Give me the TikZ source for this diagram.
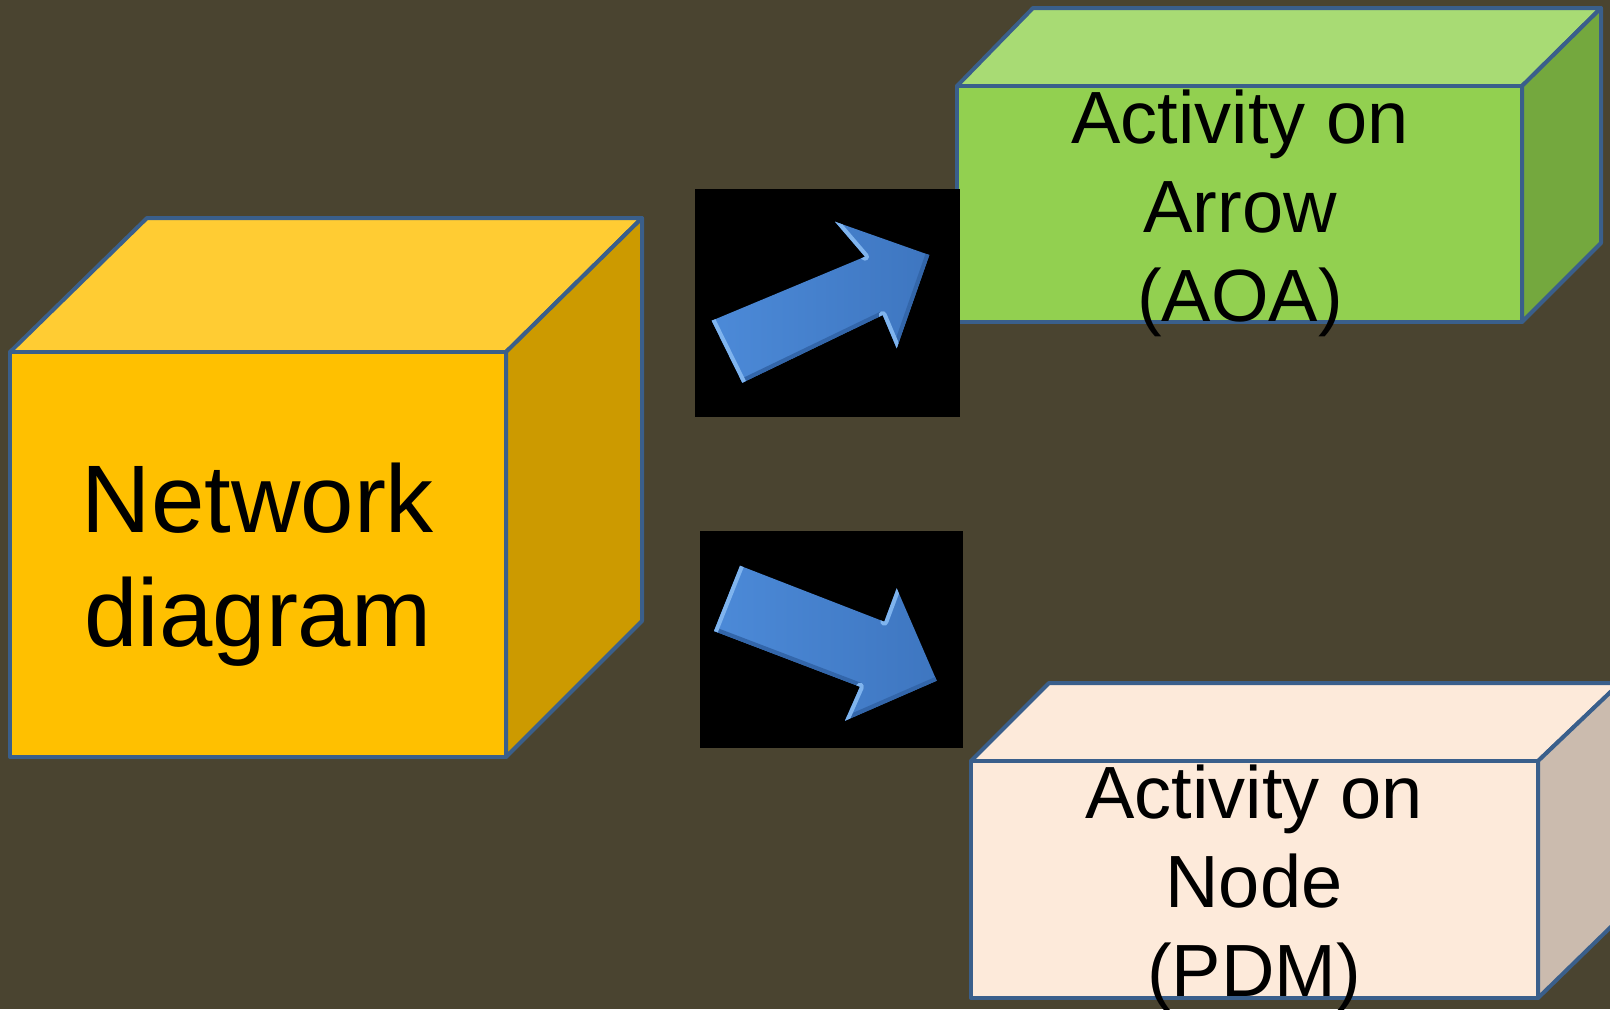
\documentclass[tikz,border=0pt]{standalone}
\usepackage{fontspec}
\setmainfont{Liberation Sans}
\definecolor{bg}{HTML}{4A4430}
\definecolor{edge}{HTML}{3A5F8B}
\definecolor{yfront}{HTML}{FFC000}
\definecolor{ytop}{HTML}{FFCC33}
\definecolor{yside}{HTML}{CC9A00}
\definecolor{gfront}{HTML}{92D050}
\definecolor{gtop}{HTML}{A8DB74}
\definecolor{gside}{HTML}{74A83E}
\definecolor{pfront}{HTML}{FDEADA}
\definecolor{ptop}{HTML}{FDEADA}
\definecolor{pside}{HTML}{CBBBAE}
\definecolor{arrlight}{HTML}{4C8AD8}
\definecolor{arrdark}{HTML}{3E76C0}
\definecolor{bevlight}{HTML}{7FB4EE}
\definecolor{bevdark}{HTML}{3366AA}
\tikzset{
  face/.style={draw=edge, line width=2pt, line join=round},
  bigtext/.style={align=center, text=black, inner sep=0pt, font=\fontsize{48}{57}\selectfont},
  boxtext/.style={align=center, text=black, inner sep=0pt, font=\fontsize{37}{44.5}\selectfont},
  blockarrow/.style={left color=arrlight, right color=arrdark},
  bevel/.style={line width=4pt, line cap=round},
  blackpanel/.style={fill=black, draw=none}
}
\begin{document}
\begin{tikzpicture}[x=0.5pt, y=-0.5pt]
\useasboundingbox (0,0) rectangle (1610,1009);
\clip (0,0) rectangle (1610,1009);
\fill[bg] (0,0) rectangle (1610,1009);

% left cube
\path[face, fill=ytop] (10,352) -- (147,218) -- (642,218) -- (506,352) -- cycle;
\path[face, fill=yside] (506,352) -- (642,218) -- (642,621) -- (506,757) -- cycle;
\path[face, fill=yfront] (10,352) rectangle (506,757);
\node[bigtext] (net) at (258,565) {Network\\diagram};

% green box
\path[face, fill=gtop] (957,86) -- (1033,8) -- (1601,8) -- (1522,86) -- cycle;
\path[face, fill=gside] (1522,86) -- (1601,8) -- (1601,243) -- (1522,322) -- cycle;
\path[face, fill=gfront] (957,86) rectangle (1522,322);
\node[boxtext] (aoa) at (1240,213) {Activity on\\Arrow\\(AOA)};

% pink box
\path[face, fill=ptop] (971,761) -- (1049,683) -- (1620,683) -- (1538,761) -- cycle;
\path[face, fill=pside] (1538,761) -- (1620,683) -- (1620,918) -- (1538,998) -- cycle;
\path[face, fill=pfront] (971,761) rectangle (1538,998);
\node[boxtext] (aon) at (1254,888) {Activity on\\Node\\(PDM)};

% black panels
\node[blackpanel, minimum width=265*0.5pt, minimum height=228*0.5pt, inner sep=0pt, anchor=north west] (panA) at (695,189) {};
\node[blackpanel, minimum width=263*0.5pt, minimum height=217*0.5pt, inner sep=0pt, anchor=north west] (panB) at (700,531) {};

% block arrow 1 (up-right)
\coordinate (a1) at (711.7,320.7);
\coordinate (a2) at (865,256.7);
\coordinate (a3) at (835,221.7);
\coordinate (a4) at (929.3,255);
\coordinate (a5) at (896.7,348.3);
\coordinate (a6) at (882.7,315);
\coordinate (a7) at (742.3,382.7);
\begin{scope}
\clip (a1) -- (a2) -- (a3) -- (a4) -- (a5) -- (a6) -- (a7) -- cycle;
\path[blockarrow] (a1) -- (a2) -- (a3) -- (a4) -- (a5) -- (a6) -- (a7) -- cycle;
\draw[bevel, bevdark] (a4) -- (a5);
\draw[bevel, bevdark] (a6) -- (a7);
\draw[bevel, bevlight] (a3) -- (a2);
\draw[bevel, bevlight] (a6) -- (a5);
\draw[bevel, bevlight] (a7) -- (a1);
\end{scope}

% block arrow 2 (down-right)
\coordinate (b1) at (740,565.7);
\coordinate (b2) at (884.3,621.7);
\coordinate (b3) at (896.7,588.3);
\coordinate (b4) at (936.7,680.7);
\coordinate (b5) at (845,720.7);
\coordinate (b6) at (860,686.7);
\coordinate (b7) at (714,631);
\begin{scope}
\clip (b1) -- (b2) -- (b3) -- (b4) -- (b5) -- (b6) -- (b7) -- cycle;
\path[blockarrow] (b1) -- (b2) -- (b3) -- (b4) -- (b5) -- (b6) -- (b7) -- cycle;
\draw[bevel, bevdark] (b4) -- (b5);
\draw[bevel, bevdark] (b6) -- (b7);
\draw[bevel, bevlight] (b3) -- (b2);
\draw[bevel, bevlight] (b6) -- (b5);
\draw[bevel, bevlight] (b7) -- (b1);
\end{scope}
\end{tikzpicture}
\end{document}
